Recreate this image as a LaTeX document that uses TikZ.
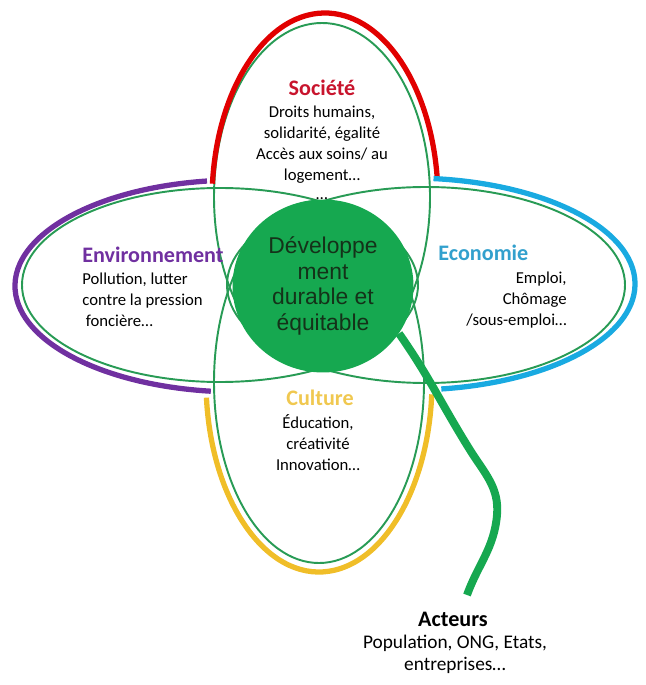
\documentclass[tikz,border=0pt]{standalone}
\usepackage{fontspec}
\setmainfont{Carlito}
\newfontfamily\arialfont{Liberation Sans}
\usepackage{tikz}
\usetikzlibrary{positioning, shapes.geometric}
\definecolor{petalgreen}{RGB}{40,155,85}
\definecolor{ddgreen}{RGB}{22,168,80}
\definecolor{ddtext}{RGB}{20,50,25}
\definecolor{socred}{RGB}{225,0,0}
\definecolor{socredtxt}{RGB}{200,20,45}
\definecolor{envpurple}{RGB}{112,48,160}
\definecolor{ecoblue}{RGB}{25,170,225}
\definecolor{ecobluetxt}{RGB}{50,160,205}
\definecolor{culyellow}{RGB}{240,190,40}
\definecolor{culyellowtxt}{RGB}{240,200,80}

\begin{document}
\begin{tikzpicture}[x=0.02cm, y=0.02cm]
	\tikzstyle{petal}=[draw=petalgreen, line width=1.1pt]
	\tikzstyle{rim}=[line width=3pt]
	\tikzstyle{head}=[font=\fontsize{12.6}{15}\selectfont\bfseries, inner sep=0pt]
	\tikzstyle{body}=[font=\fontsize{9.5}{11.9}\selectfont, inner sep=0pt]
	
	\useasboundingbox (0,0) rectangle (645,-685);
	
	%% petals
	\foreach \cx/\cy/\rx/\ry in {322/-197/108/174, 319/-382/105/181, 220/-285/198/97, 426/-285/199/98}
		\draw [petal] (\cx,\cy) ellipse [x radius=\rx, y radius=\ry];
	
	%% coloured rims
	\foreach \c/\cx/\cy/\rx/\ry/\a/\b in {socred/325/-200/113/187/175/6, envpurple/238/-286/223/106/98/263, ecoblue/410/-284/225/106/84/-82, culyellow/319/-381/113/191/185/356}
		\draw [rim, \c] ([shift={({\a}:{\rx} and {\ry})}]\cx,\cy) arc [start angle=\a, end angle=\b, x radius=\rx, y radius=\ry];
	
	%% Société
	\node [head, text=socredtxt] (S) at (322,-88) {Société};
	\node [body, align=center] (Sb) at (322,-153) {Droits humains,\\solidarité, égalité\\Accès aux soins/ au\\logement…\\[-1pt]…};
	
	%% Environnement
	\node [head, text=envpurple, anchor=west] (E) at (82,-255) {Environnement};
	\node [body, align=left, anchor=west] (Eb) at (82,-300) {Pollution, lutter\\contre la pression\\\hspace*{2pt}foncière…};
	
	%% Economie
	\node [head, text=ecobluetxt, anchor=west] (C) at (438,-253) {Economie};
	\node [body, align=right, anchor=east] (Cb) at (567,-300) {Emploi,\\Chômage\\/sous-emploi…};
	
	%% Culture
	\node [head, text=culyellowtxt] (K) at (320,-398) {Culture};
	\node [body, align=center] (Kb) at (318,-443) {Éducation,\\créativité\\Innovation…};
	
	%% centre
	\node [ellipse, fill=ddgreen, minimum width=3.62cm, minimum height=3.46cm, inner sep=0pt, text=ddtext, align=center, font=\arialfont\fontsize{13}{14.7}\selectfont] (DD) at (323,-286) {Développe\\ment\\durable et\\équitable};
	
	%% Acteurs
	\node [head, text=black] (A) at (453,-619) {Acteurs};
	\node [body, align=center, font=\fontsize{11}{12.5}\selectfont] (Ab) at (455,-654) {Population, ONG, Etats,\\entreprises…};
	\coordinate (actend) at (467,-595);
	\draw [ddgreen, line width=4.5pt] (DD.-32) to[out=-55,in=122] (470,-450) to[out=-58,in=85] (497,-515) to[out=-95,in=70] (actend);
\end{tikzpicture}
\end{document}
